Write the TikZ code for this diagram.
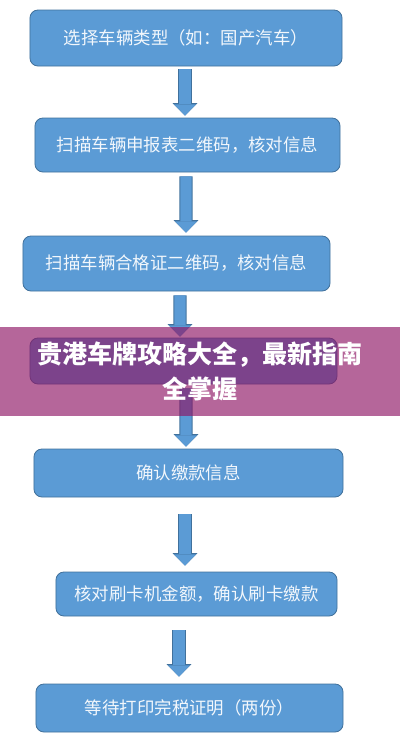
\documentclass[tikz,border=0pt]{standalone}
\usepackage{fontspec}
\newfontfamily\cjk{Noto Sans CJK SC}
\usetikzlibrary{arrows.meta}
\definecolor{boxblue}{RGB}{91,155,213}
\definecolor{boxedge}{RGB}{65,113,156}
\definecolor{bannerpink}{RGB}{142,20,100}

\begin{document}
\begin{tikzpicture}[
    x=0.025cm, y=-0.025cm,
    box/.style={rectangle, rounded corners=0.2cm, draw=boxedge, line width=0.6pt, fill=boxblue, text=white!92!boxblue, font=\cjk\fontsize{12.4}{15}\selectfont, inner sep=0pt},
    flow/.style={draw=boxblue, line width=0.28cm, -{Triangle[width=0.55cm, length=0.28cm, line width=0pt]},
        preaction={draw=boxedge, line width=0.33cm, -{Triangle[width=0.62cm, length=0.31cm, line width=0pt]}}},
    banner/.style={rectangle, fill=bannerpink, fill opacity=0.65, text opacity=1, text=white, minimum width=10cm, minimum height=2.225cm, align=center, font=\cjk\bfseries\fontsize{17.8}{25}\selectfont, inner sep=0pt}
]
    \useasboundingbox (0,0) rectangle (400,746);

    % Step 1
    \node[box, minimum width=7.8cm, minimum height=1.4cm] (choose) at (186,38) {选择车辆类型（如：国产汽车）};

    % Step 2
    \node[box, minimum width=7.625cm, minimum height=1.35cm] (scanform) at (187.5,145) {扫描车辆申报表二维码，核对信息};

    % Step 3
    \node[box, minimum width=7.675cm, minimum height=1.375cm] (scancert) at (176.5,263.5) {扫描车辆合格证二维码，核对信息};

    % Step 4 (covered by the banner)
    \node[box, minimum width=7.675cm, minimum height=1.15cm] (hidden) at (183.5,361) {};

    % Step 5
    \node[box, minimum width=7.725cm, minimum height=1.2cm] (confirm) at (188.5,473) {确认缴款信息};

    % Step 6
    \node[box, minimum width=7.025cm, minimum height=1.1cm] (card) at (196.5,594) {核对刷卡机金额，确认刷卡缴款};

    % Step 7
    \node[box, minimum width=7.675cm, minimum height=1.2cm] (print) at (189.5,708) {等待打印完税证明（两份）};

    % Arrows
    \draw[flow] ([shift={(-1,3)}]choose.south) -- ([shift={(-2.5,-2)}]scanform.north);
    \draw[flow] ([shift={(-1.5,4)}]scanform.south) -- ([shift={(9.5,-3)}]scancert.north);
    \draw[flow] ([shift={(3.5,4)}]scancert.south) -- ([shift={(-3.5,-1)}]hidden.north);
    \draw[flow] ([shift={(2.5,4)}]hidden.south) -- ([shift={(-2.5,-2)}]confirm.north);
    \draw[flow] ([shift={(-3.5,17)}]confirm.south) -- ([shift={(-11.5,-6)}]card.north);
    \draw[flow] ([shift={(-17.5,14)}]card.south) -- ([shift={(-10.5,-7)}]print.north);

    % Title banner
    \node[banner] (title) at (200,371.5) {贵港车牌攻略大全，最新指南\\全掌握};
\end{tikzpicture}
\end{document}
